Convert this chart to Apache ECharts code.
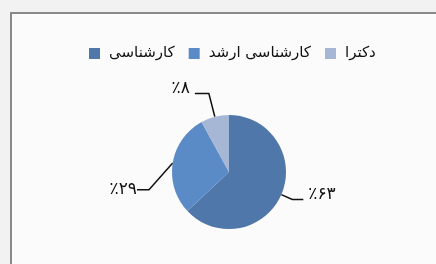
<!DOCTYPE html>
<html>
<head>
<meta charset="utf-8">
<script src="https://cdn.jsdelivr.net/npm/echarts@6/dist/echarts.min.js"></script>
<style>
  html, body { margin: 0; padding: 0; background: #f2f2f2; }
  #chart { width: 436px; height: 264px; }
</style>
</head>
<body>
<div id="chart"></div>
<script>
// دسته‌ها و مقادیر (درصد)
var categories = ['کارشناسی', 'کارشناسی ارشد', 'دکترا'];
var values = [63, 29, 8];
var labelTexts = ['٪۶۳', '٪۲۹', '٪۸'];
var colors = ['#4f77a9', '#5b8bc7', '#a6b6d5'];

var chart = echarts.init(document.getElementById('chart'));

var lineLen = [[12, 11], [22, 12], [24, 14]];

var pieData = categories.map(function (name, i) {
  return {
    name: name,
    value: values[i],
    label: { formatter: labelTexts[i] },
    labelLine: { length: lineLen[i][0], length2: lineLen[i][1] }
  };
});

var option = {
  backgroundColor: '#f2f2f2',
  animation: false,
  color: colors,
  textStyle: { fontFamily: 'DejaVu Sans' },
  graphic: [
    {
      type: 'rect',
      shape: { x: 11, y: 13, width: 440, height: 270 },
      style: { fill: '#fbfbfb', stroke: '#8a8a8a', lineWidth: 2 },
      z: -10
    }
  ],
  legend: {
    top: 41,
    left: 84,
    icon: 'rect',
    itemWidth: 11,
    itemHeight: 11,
    itemGap: 14,
    textStyle: { fontSize: 15, color: '#111', fontFamily: 'DejaVu Sans', padding: [0, 0, 0, 4] },
    data: categories
  },
  series: [
    {
      type: 'pie',
      center: [229, 172],
      radius: 57,
      startAngle: 90,
      clockwise: true,
      label: {
        show: true,
        position: 'outside',
        fontSize: 17,
        color: '#111',
        fontFamily: 'DejaVu Sans'
      },
      labelLine: {
        show: true,
        lineStyle: { color: '#111', width: 1.5 }
      },
      labelLayout: function (params) {
        // برچسب ٪۲۹ پایین‌تر از راستای شعاعی است
        if (params.dataIndex === 1) {
          var r = params.labelRect;
          return {
            x: r.x + r.width + 3,
            y: r.y + r.height / 2 + 30,
            align: 'right',
            verticalAlign: 'middle'
          };
        }
        // متن کمی بالاتر از انتهای خط راهنما
        return { dy: -5 };
      },
      emphasis: { disabled: true },
      data: pieData
    }
  ]
};

chart.setOption(option);
</script>
</body>
</html>
